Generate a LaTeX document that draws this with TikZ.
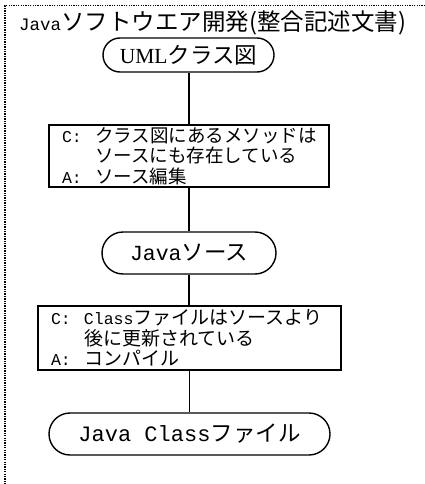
\documentclass[tikz,border=0pt]{standalone}
\usepackage{fontspec}
\newfontfamily\jpfont{Noto Sans CJK JP}
\newfontfamily\monofont{Liberation Mono}
\newfontfamily\romfont{Liberation Serif}
\newcommand\ms[2]{{\monofont\fontsize{#1}{20.5}\selectfont #2}}
\newcommand\rs[2]{{\romfont\fontsize{#1}{20.5}\selectfont #2}}
\newcommand\js[2]{{\jpfont\fontsize{#1}{20.5}\selectfont #2}}
\newcommand\pre[1]{\makebox[33pt][l]{\ms{16.5}{#1}}}
\tikzset{
  term/.style={draw, line width=1.4pt, rounded corners=17pt, inner sep=0pt},
  cond/.style={draw, line width=1.4pt, rectangle, inner xsep=13pt, inner ysep=0pt,
    align=left, font=\fontsize{16}{20.5}\selectfont},
  link/.style={line width=1.3pt},
  frame/.style={line width=1.3pt, dash pattern=on 1.3pt off 1.1pt}
}
\begin{document}
\begin{tikzpicture}[x=1pt,y=-1pt]
\useasboundingbox (0,0) rectangle (425,484);
\coordinate (fo) at (5,5.5);
\coordinate (ftr) at (425,5.5);
\coordinate (fbl) at (5,484);
\draw[frame] (ftr) -- (fo) -- (fbl);
\node[anchor=base west, inner sep=0pt] (title) at (19,31)
  {\ms{17.5}{Java}\js{23.5}{ソフトウエア開発(整合記述文書)}};
\node[term, minimum width=171pt, minimum height=34pt] (uml) at (188.5,55)
  {\rs{21.5}{UML}\js{22.5}{クラス図}};
\node[cond, minimum width=280pt, minimum height=62pt, text width=254pt] (c1) at (189,156)
  {\pre{C:}\js{18.5}{クラス図にあるメソッドは}\\
   \hspace*{33pt}\js{18.5}{ソースにも存在している}\\
   \pre{A:}\js{18.5}{ソース編集}};
\node[term, rounded corners=21pt, minimum width=174pt, minimum height=42pt] (src) at (189,253)
  {\ms{21.5}{Java}\js{22.5}{ソース}};
\node[cond, minimum width=303pt, minimum height=64pt, text width=277pt] (c2) at (189.5,338)
  {\pre{C:}\ms{16.5}{Class}\js{19}{ファイルはソースより}\\
   \hspace*{33pt}\js{19}{後に更新されている}\\
   \pre{A:}\js{19}{コンパイル}};
\node[term, rounded corners=21pt, minimum width=281pt, minimum height=42pt] (cls) at (189.5,434)
  {\ms{22}{Java Class}\js{22.5}{ファイル}};
\draw[link] (c1.north) -- (c1.north |- uml.south);
\draw[link] (c1.south -| src.north) -- (src.north);
\draw[link] (src.south) -- (c2.north -| src.south);
\draw[link] (c2.south -| cls.north) -- (cls.north);
\end{tikzpicture}
\end{document}
